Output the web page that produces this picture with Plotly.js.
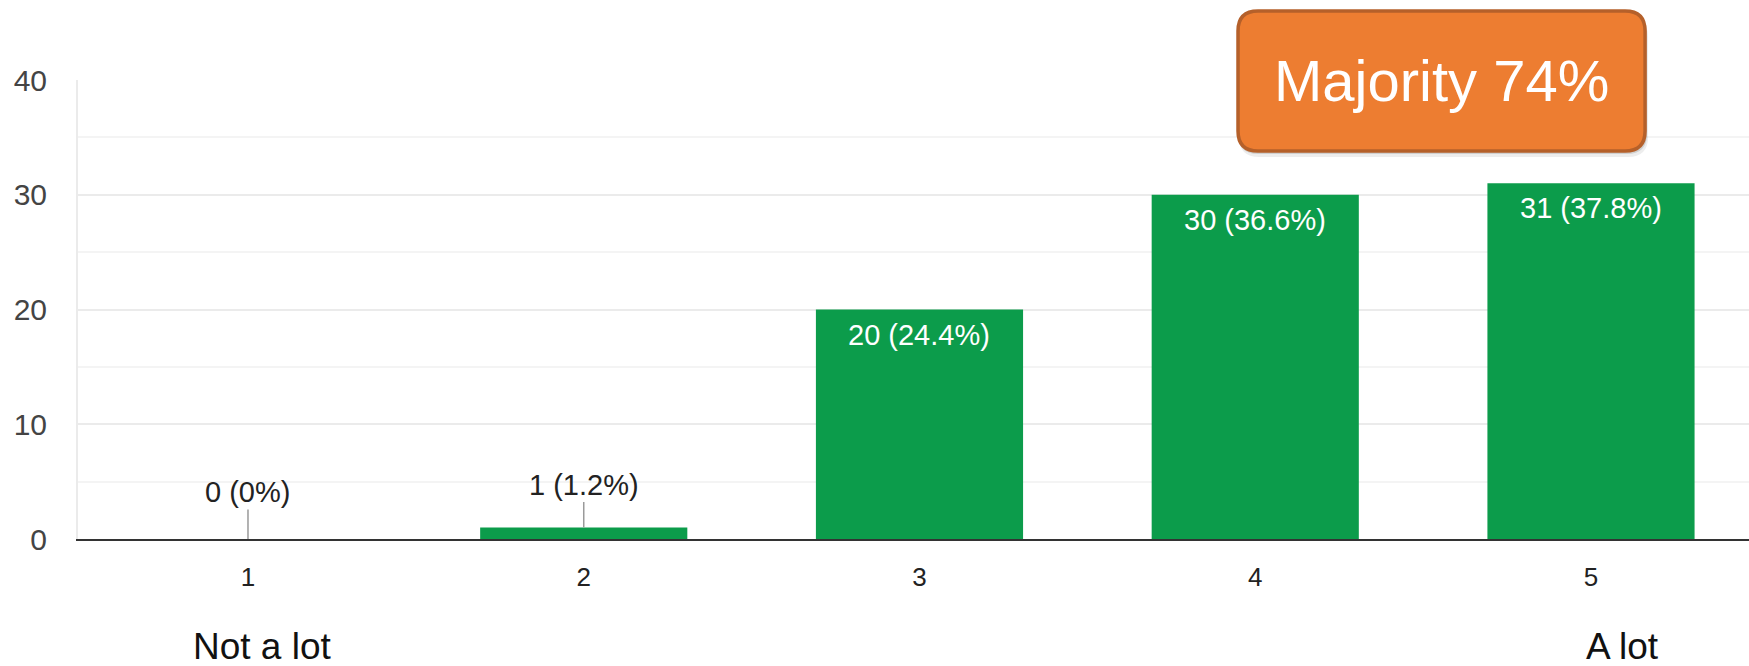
<!DOCTYPE html>
<html>
<head>
<meta charset="utf-8">
<script src="https://cdn.plot.ly/plotly-3.0.1.min.js"></script>
<style>
  html, body { margin: 0; padding: 0; background: #ffffff; }
  #chart { width: 1749px; height: 666px; }
</style>
</head>
<body>
<div id="chart"></div>
<script>
// Survey responses on a 1-5 scale
const categories = [1, 2, 3, 4, 5];
const counts = [0, 1, 20, 30, 31];
const percents = ['0%', '1.2%', '24.4%', '36.6%', '37.8%'];
const yTicks = [0, 10, 20, 30, 40];
const scaleLow = 'Not a lot';
const scaleHigh = 'A lot';
const calloutText = 'Majority 74%';

const FONT = '"Liberation Sans", Arial, sans-serif';
const GREEN = '#0c9c4b';

const labels = counts.map((c, i) => c + ' (' + percents[i] + ')');

const trace = {
  type: 'bar',
  x: categories,
  y: counts,
  marker: { color: GREEN, line: { width: 0 } },
  hoverinfo: 'skip',
  showlegend: false
};

// Value labels: small bars get a label above with a leader line,
// tall bars get a white label inside near the top.
const annotations = [];
counts.forEach((c, i) => {
  if (c < 5) {
    annotations.push({
      x: categories[i], y: c, xref: 'x', yref: 'y',
      text: labels[i], showarrow: true, arrowhead: 0,
      arrowwidth: 1.5, arrowcolor: '#9a9a9a',
      ax: 0, ay: c === 0 ? -47 : -43, standoff: 0,
      font: { family: FONT, size: 29, color: '#222222' }
    });
  } else {
    annotations.push({
      x: categories[i], y: c, xref: 'x', yref: 'y',
      text: labels[i], showarrow: false,
      yanchor: 'top', yshift: -7,
      font: { family: FONT, size: 29, color: '#ffffff' }
    });
  }
});

// Scale end descriptions under the first and last categories
annotations.push({
  x: categories[0], xref: 'x', xanchor: 'left', xshift: -57,
  y: -0.235, yref: 'paper', yanchor: 'middle',
  text: scaleLow, showarrow: false,
  font: { family: FONT, size: 37, color: '#111111' }
});
annotations.push({
  x: categories[categories.length - 1], xref: 'x', xanchor: 'left', xshift: -7,
  y: -0.235, yref: 'paper', yanchor: 'middle',
  text: scaleHigh, showarrow: false,
  font: { family: FONT, size: 37, color: '#111111' }
});

// Callout box text
annotations.push({
  x: 0.816, y: 0.998, xref: 'paper', yref: 'paper',
  xanchor: 'center', yanchor: 'middle',
  text: calloutText, showarrow: false,
  font: { family: FONT, size: 58, color: '#ffffff' }
});

// Rounded rectangle path in paper coordinates
function roundRect(x0, y0, x1, y1, rx, ry) {
  return 'M ' + (x0 + rx) + ' ' + y1 +
    ' L ' + (x1 - rx) + ' ' + y1 +
    ' Q ' + x1 + ' ' + y1 + ' ' + x1 + ' ' + (y1 - ry) +
    ' L ' + x1 + ' ' + (y0 + ry) +
    ' Q ' + x1 + ' ' + y0 + ' ' + (x1 - rx) + ' ' + y0 +
    ' L ' + (x0 + rx) + ' ' + y0 +
    ' Q ' + x0 + ' ' + y0 + ' ' + x0 + ' ' + (y0 + ry) +
    ' L ' + x0 + ' ' + (y1 - ry) +
    ' Q ' + x0 + ' ' + y1 + ' ' + (x0 + rx) + ' ' + y1 + ' Z';
}

const PW = 1671, PH = 459;
const bx0 = 0.6942, bx1 = 0.9378, by0 = 0.8453, by1 = 1.1503;
const rx = 20 / PW, ry = 20 / PH;

const shapes = [
  // soft drop shadow
  {
    type: 'path', xref: 'paper', yref: 'paper', layer: 'above',
    path: roundRect(bx0 + 1 / PW, by0 - 6 / PH, bx1 + 3 / PW, by1 - 6 / PH, rx, ry),
    fillcolor: 'rgba(0,0,0,0.07)', line: { width: 0 }
  },
  {
    type: 'path', xref: 'paper', yref: 'paper', layer: 'above',
    path: roundRect(bx0, by0 - 3 / PH, bx1 + 2 / PW, by1 - 3 / PH, rx, ry),
    fillcolor: 'rgba(0,0,0,0.12)', line: { width: 0 }
  },
  // callout box
  {
    type: 'path', xref: 'paper', yref: 'paper', layer: 'above',
    path: roundRect(bx0, by0, bx1, by1, rx, ry),
    fillcolor: '#ed7d31', line: { color: '#b5602a', width: 3.5 }
  }
];

const layout = {
  width: 1749, height: 666,
  margin: { l: 78, r: 0, t: 80, b: 127, pad: 0 },
  paper_bgcolor: '#ffffff',
  plot_bgcolor: '#ffffff',
  bargap: 0.383,
  showlegend: false,
  xaxis: {
    range: [0.4937, 5.4706],
    tickvals: categories,
    ticktext: categories.map(String),
    ticks: '',
    showgrid: false,
    zeroline: false,
    showline: true, linecolor: '#333333', linewidth: 2,
    ticklabelstandoff: 14,
    tickfont: { family: FONT, size: 26, color: '#222222' },
    fixedrange: true
  },
  yaxis: {
    range: [0, 40],
    tickvals: yTicks,
    ticks: '',
    showgrid: true, gridcolor: '#ebebeb', gridwidth: 2,
    minor: { dtick: 5, showgrid: true, gridcolor: '#f4f4f4', gridwidth: 2, ticks: '' },
    zeroline: false,
    showline: true, linecolor: '#ebebeb', linewidth: 2,
    ticklabelstandoff: 23,
    tickfont: { family: FONT, size: 30, color: '#444444' },
    fixedrange: true
  },
  annotations: annotations,
  shapes: shapes
};

Plotly.newPlot('chart', [trace], layout, { displayModeBar: false, staticPlot: true });
</script>
</body>
</html>
